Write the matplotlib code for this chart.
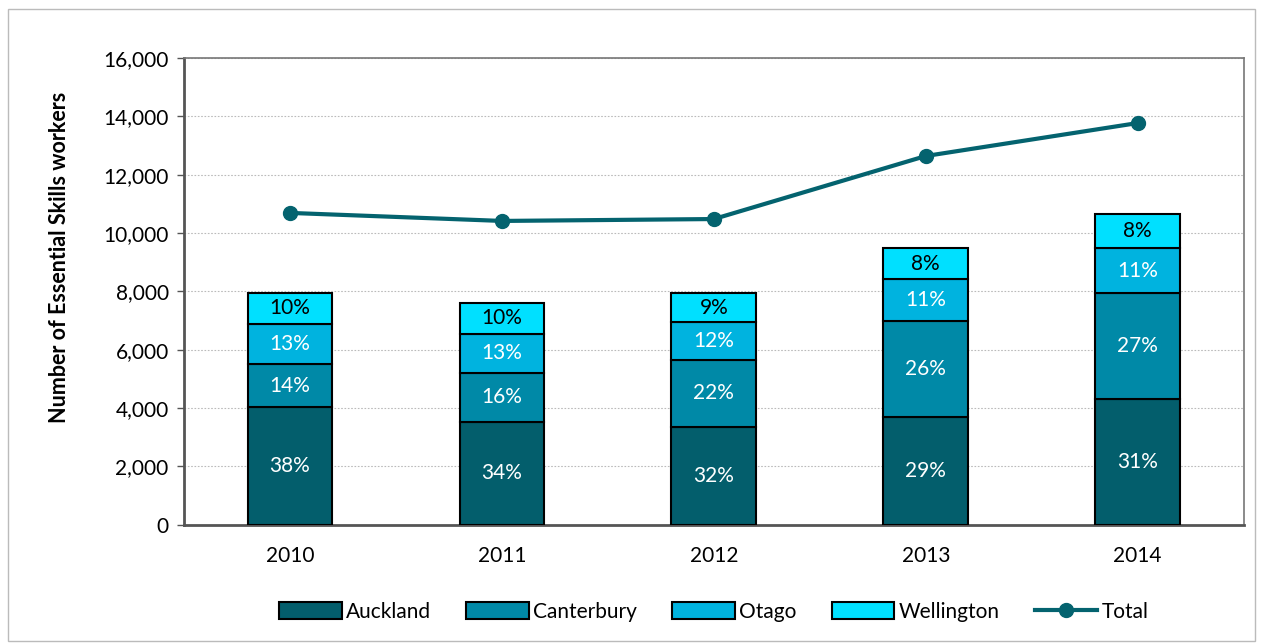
import matplotlib

matplotlib.use("Agg")
import matplotlib.pyplot as plt
from matplotlib.patches import Rectangle
import numpy as np

plt.rcParams["font.family"] = ["Lato", "DejaVu Sans"]

years = ["2010", "2011", "2012", "2013", "2014"]
regions = ["Auckland", "Canterbury", "Otago", "Wellington"]
auckland = [4040, 3530, 3370, 3710, 4305]
canterbury = [1465, 1680, 2285, 3280, 3650]
otago = [1380, 1335, 1290, 1430, 1520]
wellington = [1070, 1060, 1005, 1060, 1175]
total = [10690, 10415, 10480, 12640, 13770]
pct_labels = [
    ["38%", "34%", "32%", "29%", "31%"],
    ["14%", "16%", "22%", "26%", "27%"],
    ["13%", "13%", "12%", "11%", "11%"],
    ["10%", "10%", "9%", "8%", "8%"],
]

colors = ["#035e6c", "#0089a7", "#00b3df", "#00e0ff"]
text_colors = ["white", "white", "white", "black"]
line_color = "#04636f"

fig = plt.figure(figsize=(12.63, 6.44), dpi=100)
ax = fig.add_axes([0.1457, 0.185, 0.839, 0.725])

x = np.arange(len(years))
bottom = np.zeros(len(years))
series = [auckland, canterbury, otago, wellington]
for vals, name, col, tcol, labs in zip(series, regions, colors, text_colors, pct_labels):
    vals = np.array(vals, dtype=float)
    ax.bar(x, vals, 0.4, bottom=bottom, color=col, edgecolor="black",
           linewidth=1.5, label=name, zorder=3)
    for xi, b, v, lab in zip(x, bottom, vals, labs):
        ax.text(xi, b + v / 2, lab, ha="center", va="center", color=tcol,
                fontsize=15, zorder=4)
    bottom += vals

ax.plot(x, total, color=line_color, linewidth=3, marker="o", markersize=10,
        label="Total", zorder=5)

ax.set_xlim(-0.5, 4.5)
ax.set_ylim(0, 16000)
ax.set_yticks(np.arange(0, 16001, 2000))
ax.set_yticklabels([f"{v:,}" for v in range(0, 16001, 2000)])
ax.set_xticks(x)
ax.set_xticklabels(years)
ax.tick_params(axis="both", labelsize=15, colors="black")
ax.tick_params(axis="y", length=5, width=1, color="#555555", pad=6)
ax.tick_params(axis="x", length=0, pad=15)
ax.grid(axis="y", linestyle=(0, (1.5, 1.5)), color="#bbbbbb", linewidth=0.8, zorder=0)
for s in ax.spines.values():
    s.set_color("#777777")
    s.set_linewidth(1.2)
ax.spines["left"].set_color("#555555")
ax.spines["left"].set_linewidth(2)
ax.spines["bottom"].set_color("#555555")
ax.spines["bottom"].set_linewidth(2)

ax.set_ylabel("Number of Essential Skills workers", fontsize=15.5, fontweight="bold")
ax.yaxis.set_label_coords(-0.108, 0.572)

handles, labels = ax.get_legend_handles_labels()
order = [labels.index(n) for n in regions + ["Total"]]
ax.legend([handles[i] for i in order], [labels[i] for i in order],
          loc="upper center", bbox_to_anchor=(0.5, -0.125), ncol=5, frameon=False,
          fontsize=15, handlelength=3.0, handleheight=0.9, columnspacing=1.7,
          handletextpad=0.2)

fig.patches.append(Rectangle((0.006, 0.004), 0.988, 0.982, transform=fig.transFigure,
                             fill=False, edgecolor="#bbbbbb", linewidth=1))

fig.savefig("out.png", dpi=100)
